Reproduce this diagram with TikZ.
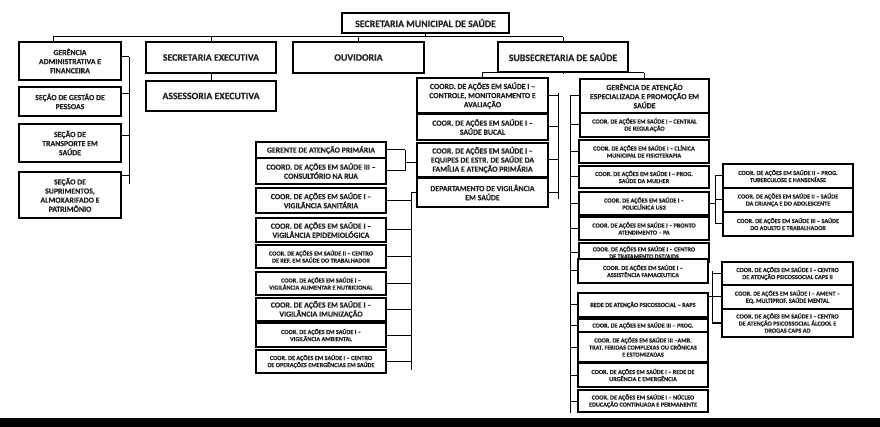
\documentclass[tikz,border=0pt]{standalone}
\usepackage{fontspec}
\setmainfont{Carlito}[BoldFeatures={FakeBold=0.6}]
\newcommand\obox[7]{\node[box,#6,minimum width={(#4)-(#2)},minimum height={(#5)-(#3)}] (#1) at ({((#2)+(#4))/2},{((#3)+(#5))/2}) {#7};}
\begin{document}
\begin{tikzpicture}[x=1pt,y=-1pt,
  box/.style={draw=black,line width=1.1pt,fill=white,align=center,inner sep=0.5pt,text=black!85},
  ln/.style={line width=1pt,draw=black},
  fbig/.style={font=\bfseries\fontsize{9.8}{11}\selectfont},
  fmid/.style={font=\bfseries\fontsize{7.8}{9.1}\selectfont},
  fsm/.style={font=\bfseries\fontsize{6.2}{7.1}\selectfont}]
\useasboundingbox (0,0) rectangle (880,427);
\fill[white] (0,0) rectangle (880,427);
% top level
\obox{sms}{342}{13}{509}{33}{fbig}{SECRETARIA MUNICIPAL DE SAÚDE}
\obox{gaf}{19}{42}{121}{80}{fmid}{GERÊNCIA\\ADMINISTRATIVA E\\FINANCEIRA}
\obox{sgp}{19}{87}{121}{116}{fmid}{SEÇÃO DE GESTÃO DE\\PESSOAS}
\obox{str}{19}{124}{121}{162}{fmid}{SEÇÃO DE\\TRANSPORTE EM\\SAÚDE}
\obox{ssa}{19}{172}{121}{218}{fmid}{SEÇÃO DE\\SUPRIMENTOS,\\ALMOXARIFADO E\\PATRIMÔNIO}
\obox{sece}{146}{42}{276}{73}{fbig}{SECRETARIA EXECUTIVA}
\obox{asse}{146}{81}{276}{111}{fbig}{ASSESSORIA EXECUTIVA}
\obox{ouv}{293}{42}{424}{73}{fbig}{OUVIDORIA}
\obox{sub}{498}{42}{628}{72}{fbig}{SUBSECRETARIA DE SAÚDE}
% middle column
\obox{cma}{417}{78}{548}{113}{fmid}{COORD. DE AÇÕES EM SAÚDE I –\\CONTROLE, MONITORAMENTO E\\AVALIAÇÃO}
\obox{csb}{417}{114}{548}{140}{fmid}{COOR. DE AÇÕES EM SAÚDE I –\\SAÚDE BUCAL}
\obox{ceq}{417}{143}{548}{177}{fmid}{COOR. DE AÇÕES EM SAÚDE I –\\EQUIPES DE ESTR. DE SAÚDE DA\\FAMÍLIA E ATENÇÃO PRIMÁRIA}
\obox{dvs}{417}{178}{548}{207}{fmid}{DEPARTAMENTO DE VIGILÂNCIA\\EM SAÚDE}
% left-middle column
\obox{gap}{256}{142}{386}{158}{fmid}{GERENTE DE ATENÇÃO PRIMÁRIA}
\obox{ccr}{256}{158}{386}{184}{fmid}{COORD. DE AÇÕES EM SAÚDE III –\\CONSULTÓRIO NA RUA}
\obox{vs}{256}{188}{386}{213}{fmid}{COOR. DE AÇÕES EM SAÚDE I –\\VIGILÂNCIA SANITÁRIA}
\obox{ve}{256}{218}{386}{242}{fmid,line width=1.6pt}{COOR. DE AÇÕES EM SAÚDE I –\\VIGILÂNCIA EPIDEMIOLÓGICA}
\obox{crt}{256}{245}{386}{268}{fsm}{COOR. DE AÇÕES EM SAÚDE II – CENTRO\\DE REF. EM SAÚDE DO TRABALHADOR}
\obox{van}{256}{272}{386}{295}{fsm}{COOR. DE AÇÕES EM SAÚDE I –\\VIGILÂNCIA ALIMENTAR E NUTRICIONAL}
\obox{vi}{256}{298}{386}{321}{fmid}{COOR. DE AÇÕES EM SAÚDE I –\\VIGILÂNCIA IMUNIZAÇÃO}
\obox{va}{256}{323}{386}{347}{fsm}{COOR. DE AÇÕES EM SAÚDE I –\\VIGILÂNCIA AMBIENTAL}
\obox{coe}{256}{350}{386}{373}{fsm}{COOR. DE AÇÕES EM SAÚDE I – CENTRO\\DE OPERAÇÕES EMERGÊNCIAS EM SAÚDE}
% right column
\obox{gae}{580}{79}{709}{113}{fmid}{GERÊNCIA DE ATENÇÃO\\ESPECIALIZADA E PROMOÇÃO EM\\SAÚDE}
\obox{ccrg}{580}{113}{709}{137}{fsm}{COOR. DE AÇÕES EM SAÚDE I – CENTRAL\\DE REGULAÇÃO}
\obox{ccf}{579}{140}{709}{163}{fsm}{COOR. DE AÇÕES EM SAÚDE I – CLÍNICA\\MUNICIPAL DE FISIOTERAPIA}
\obox{csm}{579}{166}{709}{188}{fsm}{COOR. DE AÇÕES EM SAÚDE I – PROG.\\SAÚDE DA MULHER}
\obox{cpol}{579}{192}{709}{215}{fsm}{COOR. DE AÇÕES EM SAÚDE I –\\POLICLÍNICA US3}
\obox{cpa}{579}{217}{709}{240}{fsm}{COOR. DE AÇÕES EM SAÚDE I – PRONTO\\ATENDIMENTO – PA}
\obox{cct}{579}{243}{709}{262}{fsm}{COOR. DE AÇÕES EM SAÚDE I – CENTRO\\DE TRATAMENTO DST/AIDS}
\obox{caf}{578}{259}{708}{283}{fsm}{COOR. DE AÇÕES EM SAÚDE I –\\ASSISTÊNCIA FAMACEUTICA}
\obox{raps}{578}{293}{708}{317}{fsm}{REDE DE ATENÇÃO PSICOSSOCIAL – RAPS}
\obox{cprog}{578}{319}{708}{332}{fsm}{COOR. DE AÇÕES EM SAÚDE III – PROG.}
\obox{camb}{578}{332}{708}{362}{fsm}{COOR. DE AÇÕES EM SAÚDE III –AMB.\\TRAT. FERIDAS COMPLEXAS OU CRÔNICAS\\E ESTOMIZADAS}
\obox{cue}{578}{363}{708}{387}{fsm,line width=1.4pt}{COOR. DE AÇÕES EM SAÚDE I – REDE DE\\URGÊNCIA E EMERGÊNCIA}
\obox{cnep}{578}{390}{708}{412}{fsm}{COOR. DE AÇÕES EM SAÚDE I – NÚCLEO\\EDUCAÇÃO CONTINUADA E PERMANENTE}
% far right groups
\obox{ctb}{723}{164}{853}{188}{fsm}{COOR. DE AÇÕES EM SAÚDE II – PROG.\\TUBERCULOSE E HANSENÍASE}
\obox{cca}{723}{188}{853}{212}{fsm}{COOR. DE AÇÕES EM SAÚDE II – SAÚDE\\DA CRIANÇA E DO ADOLESCENTE}
\obox{cad}{723}{212}{853}{236}{fsm}{COOR. DE AÇÕES EM SAÚDE III – SAÚDE\\DO ADULTO E TRABALHADOR}
\obox{ccaps}{722}{262}{853}{285}{fsm}{COOR. DE AÇÕES EM SAÚDE I – CENTRO\\DE ATENÇÃO PSICOSSOCIAL CAPS II}
\obox{cam}{722}{285}{853}{309}{fsm}{COOR. DE AÇÕES EM SAÚDE I – AMENT –\\EQ. MULTIPROF. SAÚDE MENTAL}
\obox{cad2}{722}{309}{853}{337}{fsm}{COOR. DE AÇÕES EM SAÚDE I – CENTRO\\DE ATENÇÃO PSICOSSOCIAL ÁLCOOL E\\DROGAS CAPS AD}
% ---------- connectors
\coordinate (busL) at (53,37); \coordinate (busR) at (563,37);
\draw[ln] (busL) -- (busR);
\draw[ln] (sms.south) -- (sms.south |- busL);
\draw[ln] (busL) -- (busL |- gaf.north);
\draw[ln] (sece.north) -- (sece.north |- busL);
\draw[ln] (ouv.north) -- (ouv.north |- busL);
\draw[ln] (sub.north) -- (sub.north |- busL);
\draw[ln] (sece.south) -- (asse.north);
% left bracket
\coordinate (lbT) at (129,57); \coordinate (lbB) at (129,184);
\draw[ln] (lbT) -- (lbB);
\draw[ln] (gaf.east |- lbT) -- (lbT);
\draw[ln] ([yshift=7.5pt]sgp.east) -- ([yshift=7.5pt]sgp.east -| lbT);
\draw[ln] ([yshift=7pt]str.east) -- ([yshift=7pt]str.east -| lbT);
\draw[ln] ([yshift=19pt]ssa.east) -- ([yshift=19pt]ssa.east -| lbT);
% subsecretaria bus
\coordinate (sbL) at (482,73); \coordinate (sbR) at (644,73);
\draw[ln] (sbL) -- (sbR);
\draw[ln] (sub.south) -- (sub.south |- sbL);
\draw[ln] (sbL) -- (sbL |- cma.north);
\draw[ln] (sbR) -- (sbR |- gae.north);
% middle bracket
\coordinate (mbT) at (558,93); \coordinate (mbB) at (558,199);
\draw[ln] (mbT) -- (mbB);
\foreach \n in {cma,csb,ceq,dvs} \draw[ln] (\n.east) -- (\n.east -| mbT);
% gerente bracket
\coordinate (gbT) at (405,150); \coordinate (gbB) at (405,171);
\draw[ln] (gbT) -- (gbB);
\draw[ln] (gap.east) -- (gap.east -| gbT);
\draw[ln] (ccr.east) -- (ccr.east -| gbT);
\draw[ln] ([yshift=-3pt]ceq.west) -- ([yshift=-3pt]ceq.west -| gbT);
% vigilancia spine
\coordinate (vbB) at (411,370);
\draw[ln] (dvs.west) -| (vbB);
\foreach \n in {vs,ve,crt,van,vi,va,coe} \draw[ln] (\n.east) -- (\n.east -| vbB);
% right spine
\coordinate (rbT) at (570,96); \coordinate (rbB) at (570,413);
\draw[ln] (rbT) -- (rbB);
\foreach \n in {gae,ccrg,ccf,csm,cpol,cpa,cct,caf,raps,cprog,camb,cue,cnep} \draw[ln] (\n.west) -- (\n.west -| rbT);
% group 1
\coordinate (g1T) at (715,176); \coordinate (g1B) at (715,224);
\draw[ln] (g1T) -- (g1B);
\foreach \n in {ctb,cca,cad} \draw[ln] (\n.west) -- (\n.west -| g1T);
\draw[ln] (cpol.east) -- (cpol.east -| g1T);
% group 2
\coordinate (g2T) at (712,271); \coordinate (g2B) at (712,323);
\draw[ln] (g2T) -- (g2B);
\foreach \n in {ccaps,cam,cad2} \draw[ln] (\n.west) -- (\n.west -| g2T);
\draw[ln] ([yshift=8pt]raps.east) -- ([yshift=8pt]raps.east -| g2T);
% bottom band
\fill[black] (0,418) rectangle (880,427);
\end{tikzpicture}
\end{document}
